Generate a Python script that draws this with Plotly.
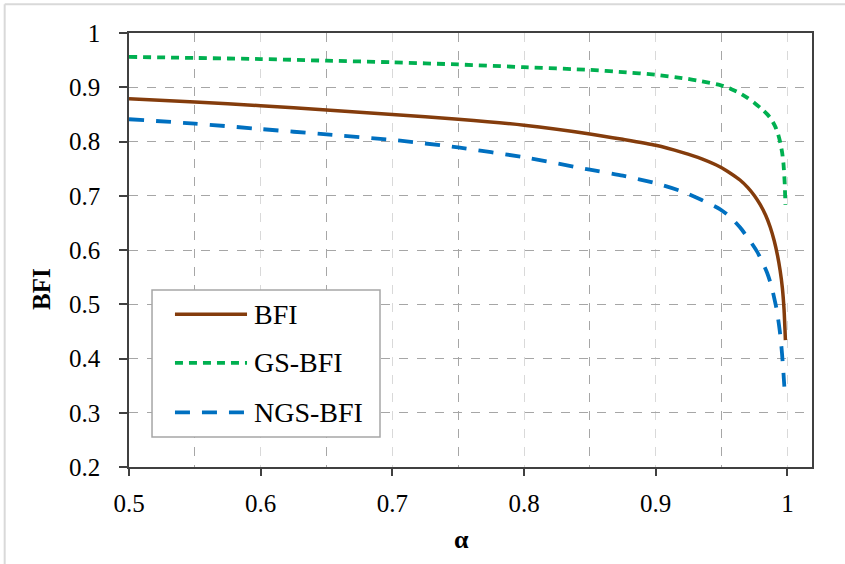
import plotly.graph_objects as go

alpha_bfi = [0.5, 0.55, 0.6, 0.65, 0.7, 0.75, 0.8, 0.85, 0.875, 0.9, 0.92, 0.935, 0.949, 0.957, 0.964, 0.97, 0.975, 0.9795, 0.9835, 0.987, 0.99, 0.9925, 0.9945, 0.9962, 0.9975, 0.9985]
bfi = [0.879, 0.873, 0.866, 0.858, 0.850, 0.841, 0.830, 0.814, 0.804, 0.793, 0.780, 0.768, 0.753, 0.741, 0.729, 0.715, 0.700, 0.683, 0.664, 0.642, 0.617, 0.590, 0.562, 0.530, 0.489, 0.434]

alpha_gs = [0.5, 0.55, 0.6, 0.65, 0.7, 0.75, 0.8, 0.85, 0.875, 0.9, 0.92, 0.935, 0.949, 0.957, 0.964, 0.97, 0.975, 0.98, 0.9848, 0.988, 0.9909, 0.993, 0.9947, 0.996, 0.997, 0.998, 0.9985]
gs_bfi = [0.956, 0.954, 0.952, 0.949, 0.946, 0.942, 0.937, 0.932, 0.928, 0.923, 0.917, 0.911, 0.904, 0.897, 0.889, 0.880, 0.871, 0.861, 0.850, 0.840, 0.827, 0.813, 0.797, 0.780, 0.760, 0.722, 0.683]

alpha_ngs = [0.5, 0.55, 0.6, 0.65, 0.7, 0.75, 0.8, 0.85, 0.875, 0.9, 0.92, 0.935, 0.949, 0.957, 0.9643, 0.971, 0.977, 0.981, 0.9846, 0.9875, 0.9896, 0.9918, 0.9934, 0.9948, 0.9959, 0.9968, 0.9977]
ngs_bfi = [0.841, 0.833, 0.823, 0.813, 0.803, 0.789, 0.771, 0.748, 0.737, 0.723, 0.708, 0.692, 0.675, 0.660, 0.641, 0.619, 0.597, 0.578, 0.558, 0.537, 0.516, 0.491, 0.466, 0.439, 0.410, 0.381, 0.348]

x_ticks = [0.5, 0.6, 0.7, 0.8, 0.9, 1.0]
x_labels = ["0.5", "0.6", "0.7", "0.8", "0.9", "1"]
y_ticks = [0.2, 0.3, 0.4, 0.5, 0.6, 0.7, 0.8, 0.9, 1.0]
y_labels = ["0.2", "0.3", "0.4", "0.5", "0.6", "0.7", "0.8", "0.9", "1"]

series_names = ["BFI", "GS-BFI", "NGS-BFI"]
series_colors = ["#843C0C", "#00B050", "#0070C0"]
series_dash = ["solid", "8px,6px", "15px,12px"]
series_width = [3.5, 3.8, 3.8]

FONT = "Times New Roman, Liberation Serif, serif"

fig = go.Figure()
for xs, ys, name, col, dash, w in zip([alpha_bfi, alpha_gs, alpha_ngs], [bfi, gs_bfi, ngs_bfi],
                                     series_names, series_colors, series_dash, series_width):
    fig.add_trace(go.Scatter(x=xs, y=ys, mode="lines", name=name, showlegend=False,
                             line=dict(color=col, width=w, dash=dash, shape="spline", smoothing=0.6)))

fig.update_layout(
    width=845, height=564,
    margin=dict(l=129, r=33, t=33, b=97),
    paper_bgcolor="white", plot_bgcolor="white",
    font=dict(family=FONT, size=25, color="black"),
    showlegend=False,
    xaxis=dict(range=[0.5, 1.0187], tickvals=x_ticks, ticktext=x_labels,
               showline=True, linecolor="#404040", linewidth=1.5, mirror=True,
               ticks="outside", ticklen=7, tickcolor="#404040", tickwidth=1.5,
               ticklabelstandoff=6,
               showgrid=True, gridcolor="#D9D9D9", griddash="dash", gridwidth=1.2,
               minor=dict(dtick=0.05, tick0=0.5, showgrid=True, gridcolor="#A6A6A6",
                          griddash="dash", gridwidth=1.2),
               zeroline=False,
               tickfont=dict(family=FONT, size=25)),
    yaxis=dict(range=[0.2, 1.0], tickvals=y_ticks, ticktext=y_labels,
               showline=True, linecolor="#404040", linewidth=1.5, mirror=True,
               ticks="outside", ticklen=8, tickcolor="#404040", tickwidth=1.5,
               ticklabelstandoff=14,
               showgrid=True, gridcolor="#A6A6A6", griddash="dash", gridwidth=1.2,
               zeroline=False,
               tickfont=dict(family=FONT, size=25)),
)

# axis titles
fig.add_annotation(text="<b>BFI</b>", xref="paper", yref="paper", x=-0.129, y=0.41,
                   textangle=-90, showarrow=False, font=dict(family=FONT, size=25),
                   xanchor="center", yanchor="middle")
fig.add_annotation(text="<b>α</b>", xref="paper", yref="paper", x=0.487, y=-0.168,
                   showarrow=False, font=dict(family=FONT, size=26),
                   xanchor="center", yanchor="middle")

# legend box drawn manually (longer sample lines like the original)
fig.add_shape(type="rect", xref="paper", yref="paper", x0=0.0337, x1=0.3675, y0=0.069, y1=0.408,
              line=dict(color="#A6A6A6", width=1.5), fillcolor="white", layer="above")
row_y = [0.352, 0.240, 0.126]
for name, col, dash, w, yy in zip(series_names, series_colors, series_dash, series_width, row_y):
    fig.add_shape(type="line", xref="paper", yref="paper", x0=0.0673, x1=0.1728, y0=yy, y1=yy,
                  line=dict(color=col, width=w, dash=dash), layer="above")
    fig.add_annotation(text=name, xref="paper", yref="paper", x=0.1800, y=yy,
                       showarrow=False, xanchor="left", yanchor="middle",
                       font=dict(family=FONT, size=28))

# light outer frame of the image
fig.add_shape(type="line", xref="paper", yref="paper", x0=-0.182, x1=1.1, y0=1.066, y1=1.066,
              line=dict(color="#D9D9D9", width=2), layer="below")
fig.add_shape(type="line", xref="paper", yref="paper", x0=-0.182, x1=-0.182, y0=-0.3, y1=1.066,
              line=dict(color="#D9D9D9", width=2), layer="below")

fig.write_html("out.html")
